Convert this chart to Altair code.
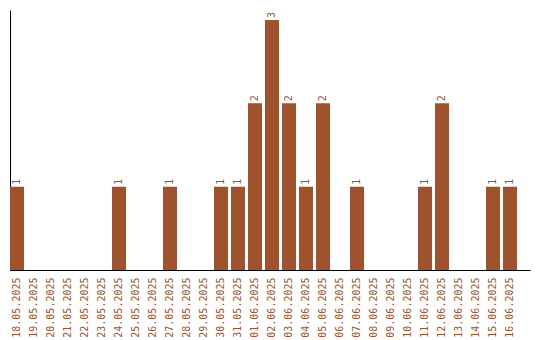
import altair as alt
import pandas as pd

dates = ["18.05.2025", "19.05.2025", "20.05.2025", "21.05.2025", "22.05.2025",
         "23.05.2025", "24.05.2025", "25.05.2025", "26.05.2025", "27.05.2025",
         "28.05.2025", "29.05.2025", "30.05.2025", "31.05.2025", "01.06.2025",
         "02.06.2025", "03.06.2025", "04.06.2025", "05.06.2025", "06.06.2025",
         "07.06.2025", "08.06.2025", "09.06.2025", "10.06.2025", "11.06.2025",
         "12.06.2025", "13.06.2025", "14.06.2025", "15.06.2025", "16.06.2025"]
counts = [1, 0, 0, 0, 0,
          0, 1, 0, 0, 1,
          0, 0, 1, 1, 2,
          3, 2, 1, 2, 0,
          1, 0, 0, 0, 1,
          2, 0, 0, 1, 1]

df = pd.DataFrame({"date": dates, "count": counts})

COLOR = "#a0522d"
FONT = "DejaVu Sans Mono"

x = alt.X("date:N", sort=dates, title=None,
          scale=alt.Scale(paddingInner=3/17, paddingOuter=0.382, align=0),
          axis=alt.Axis(labelAngle=-90, labelAlign="right", labelBaseline="middle",
                        ticks=False, labelPadding=7, labelColor=COLOR,
                        labelFont=FONT, labelFontSize=10, domainColor="black",
                        labelOverlap=False))
y = alt.Y("count:Q", title=None,
          scale=alt.Scale(domain=[0, 3.12], nice=False),
          axis=alt.Axis(labels=False, ticks=False, grid=False, domainColor="black"))

bars = alt.Chart(df).mark_bar(color=COLOR).encode(x=x, y=y)
text = alt.Chart(df).transform_filter("datum.count > 0").mark_text(
    angle=270, align="left", baseline="middle", dx=2,
    font=FONT, fontSize=10, color=COLOR
).encode(x=alt.X("date:N", sort=dates), y="count:Q", text="count:Q")

chart = (bars + text).properties(
    width=520, height=260,
    autosize=alt.AutoSizeParams(type="none"),
    padding={"left": 10, "top": 10, "right": 10, "bottom": 70},
).configure_view(stroke=None)

chart.save("out.html", embed_options={"renderer": "svg", "actions": False})
